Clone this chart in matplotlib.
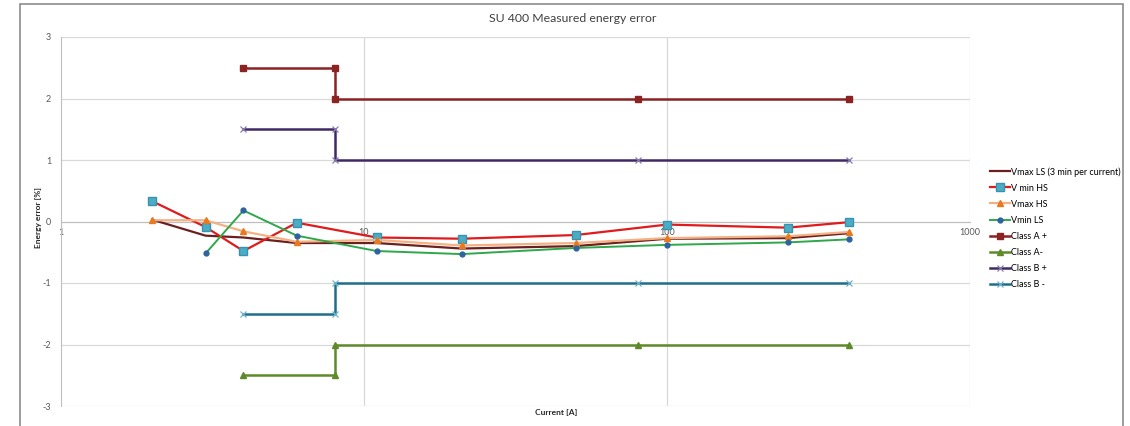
# SU 400 measured energy error vs current, with class A / class B limits

import matplotlib.pyplot as plt
from matplotlib.patches import Rectangle

plt.rcParams['font.family'] = ['Lato', 'DejaVu Sans']

# measurement currents [A]
current = [2, 3, 4, 6, 11, 21, 50, 100, 250, 400]

# energy error [%] per series
vmax_ls = [0.03, -0.23, -0.26, -0.35, -0.35, -0.44, -0.40, -0.28, -0.27, -0.19]
vmin_hs = [0.33, -0.09, -0.48, -0.02, -0.26, -0.28, -0.22, -0.05, -0.10, -0.01]
vmax_hs = [0.02, 0.02, -0.16, -0.33, -0.30, -0.39, -0.35, -0.27, -0.24, -0.17]
current_vmin_ls = [3, 4, 6, 11, 21, 50, 100, 250, 400]
vmin_ls = [-0.52, 0.18, -0.23, -0.48, -0.53, -0.43, -0.38, -0.34, -0.29]

# class limits
class_current = [4, 8, 8, 80, 400]
class_a_plus = [2.5, 2.5, 2, 2, 2]
class_a_minus = [-2.5, -2.5, -2, -2, -2]
class_b_plus = [1.5, 1.5, 1, 1, 1]
class_b_minus = [-1.5, -1.5, -1, -1, -1]

xticks = [1, 10, 100, 1000]
yticks = [-3, -2, -1, 0, 1, 2, 3]

fig = plt.figure(figsize=(11.3, 4.26), dpi=100)
ax = fig.add_axes([61/1130, 20/426, 909/1130, 369/426])

grid_col = '#d9d9d9'
for y in yticks:
    ax.axhline(y, color=grid_col, linewidth=0.9, zorder=0)
for x in [10, 100, 1000]:
    ax.axvline(x, color=grid_col, linewidth=0.9, zorder=0)

l1, = ax.plot(current, vmax_ls, '-', color='#6b1f1f', linewidth=1.6, zorder=3)
l2, = ax.plot(current, vmin_hs, '-s', color='#e01b1b', linewidth=1.6,
              markerfacecolor='#4bacc6', markeredgecolor='#3a93ad', markersize=5.5, zorder=4)
l3, = ax.plot(current, vmax_hs, '-^', color='#f4b183', linewidth=1.6,
              markerfacecolor='#e8791e', markeredgecolor='#e8791e', markersize=4, zorder=5)
l4, = ax.plot(current_vmin_ls, vmin_ls, '-o', color='#2ea84a', linewidth=1.4,
              markerfacecolor='#2e62a0', markeredgecolor='#2e62a0', markersize=3.5, zorder=6)
l5, = ax.plot(class_current, class_a_plus, '-s', color='#8b2323', linewidth=1.8,
              markersize=4.5, zorder=3)
l6, = ax.plot(class_current, class_a_minus, '-^', color='#5e8a2a', linewidth=1.8,
              markersize=5, zorder=3)
l7, = ax.plot(class_current, class_b_plus, '-x', color='#3f2a66', linewidth=1.8,
              markeredgecolor='#8a7bb0', markersize=5, markeredgewidth=0.9, zorder=3)
l8, = ax.plot(class_current, class_b_minus, '-x', color='#1f6f8b', linewidth=1.8,
              markeredgecolor='#6fb3cc', markersize=5, markeredgewidth=0.9, zorder=3)

ax.set_xscale('log')
ax.set_xlim(1, 1000)
ax.set_ylim(-3, 3)
ax.set_xticks(xticks)
ax.set_xticklabels(['1', '10', '100', '1000'])
ax.minorticks_off()
ax.set_yticks(yticks)
ax.set_yticklabels([str(v) for v in yticks])
ax.tick_params(length=0, labelsize=6.5, colors='#595959')
ax.tick_params(axis='x', pad=5)
ax.tick_params(axis='y', pad=7)

ax.spines['top'].set_visible(False)
ax.spines['right'].set_visible(False)
ax.spines['left'].set_color('#bfbfbf')
ax.spines['bottom'].set_position(('data', 0))
ax.spines['bottom'].set_color('#bfbfbf')

fig.text(573/1130, 1 - 18/426, 'SU 400 Measured energy error', ha='center', va='center',
         fontsize=8.8, color='#404040')
fig.text(556/1130, 1 - 413/426, 'Current [A]', ha='center', va='center',
         fontsize=6, fontweight='bold', color='#262626')
fig.text(39/1130, 1 - 218/426, 'Energy error [%]', ha='center', va='center',
         rotation=90, fontsize=6, fontweight='bold', color='#262626')

l1.set_label('Vmax LS (3 min per current)')
l2.set_label('V min HS')
l3.set_label('Vmax HS')
l4.set_label('Vmin LS')
l5.set_label('Class A +')
l6.set_label('Class A-')
l7.set_label('Class B +')
l8.set_label('Class B -')
fig.legend(handles=[l1, l2, l3, l4, l5, l6, l7, l8], loc='upper left',
           bbox_to_anchor=(990/1130, 1 - 167/426), frameon=False, fontsize=6.5,
           handlelength=2.2, handletextpad=0.1, labelspacing=0.78, borderpad=0,
           borderaxespad=0)

# outer chart frame
fig.patches.append(Rectangle((20/1130, -0.01), 1103/1130, 1 - 4/426 + 0.01,
                             transform=fig.transFigure, fill=False,
                             edgecolor='#8c8c8c', linewidth=1.2))

fig.savefig('out.png', dpi=100)
